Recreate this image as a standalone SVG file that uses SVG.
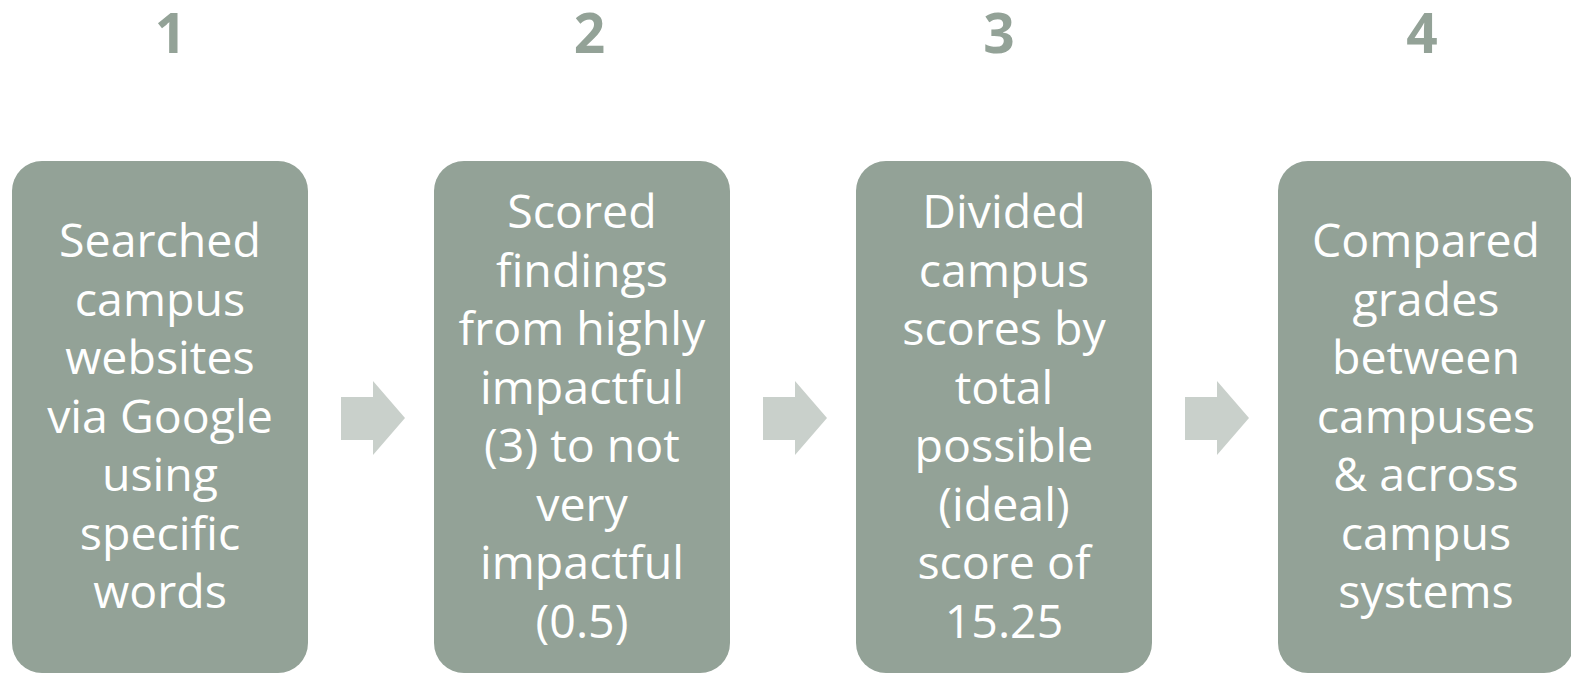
<svg xmlns="http://www.w3.org/2000/svg" width="1571" height="674" viewBox="0 0 1571 674">
<style>
.box{fill:#93A297}
.arr{fill:#C9D0CB}
.num{font-family:"Open Sans","Liberation Sans",sans-serif;font-weight:bold;font-size:55px;fill:#93A297;text-anchor:middle}
.lbl{font-family:"Open Sans","Liberation Sans",sans-serif;font-size:46.5px;fill:#FFFFFF;text-anchor:middle}
</style>
<rect width="1571" height="674" fill="#FFFFFF"/>
<g id="connectors">
<polygon class="arr" points="341,397 373,397 373,381 405,418 373,455 373,440 341,440"/>
<polygon class="arr" points="763,397 795,397 795,381 827,418 795,455 795,440 763,440"/>
<polygon class="arr" points="1185,397 1217,397 1217,381 1249,418 1217,455 1217,440 1185,440"/>
</g>
<g id="step1">
<text class="num" x="170.5" y="53">1</text>
<rect class="box" x="12" y="161" width="296" height="512" rx="30"/>
<text class="lbl" x="160" y="257">Searched</text>
<text class="lbl" x="160" y="315.5">campus</text>
<text class="lbl" x="160" y="374">websites</text>
<text class="lbl" x="160" y="432.5">via Google</text>
<text class="lbl" x="160" y="491">using</text>
<text class="lbl" x="160" y="549.5">specific</text>
<text class="lbl" x="160" y="608">words</text>
</g>
<g id="step2">
<text class="num" x="589.5" y="53">2</text>
<rect class="box" x="434" y="161" width="296" height="512" rx="30"/>
<text class="lbl" x="582" y="228">Scored</text>
<text class="lbl" x="582" y="286.5">findings</text>
<text class="lbl" x="582" y="345">from highly</text>
<text class="lbl" x="582" y="403.5">impactful</text>
<text class="lbl" x="582" y="462">(3) to not</text>
<text class="lbl" x="582" y="520.5">very</text>
<text class="lbl" x="582" y="579">impactful</text>
<text class="lbl" x="582" y="637.5">(0.5)</text>
</g>
<g id="step3">
<text class="num" x="999" y="53">3</text>
<rect class="box" x="856" y="161" width="296" height="512" rx="30"/>
<text class="lbl" x="1004" y="228">Divided</text>
<text class="lbl" x="1004" y="286.5">campus</text>
<text class="lbl" x="1004" y="345">scores by</text>
<text class="lbl" x="1004" y="403.5">total</text>
<text class="lbl" x="1004" y="462">possible</text>
<text class="lbl" x="1004" y="520.5">(ideal)</text>
<text class="lbl" x="1004" y="579">score of</text>
<text class="lbl" x="1004" y="637.5">15.25</text>
</g>
<g id="step4">
<text class="num" x="1422" y="53">4</text>
<rect class="box" x="1278" y="161" width="296" height="512" rx="30"/>
<text class="lbl" x="1426" y="257">Compared</text>
<text class="lbl" x="1426" y="315.5">grades</text>
<text class="lbl" x="1426" y="374">between</text>
<text class="lbl" x="1426" y="432.5">campuses</text>
<text class="lbl" x="1426" y="491">&amp; across</text>
<text class="lbl" x="1426" y="549.5">campus</text>
<text class="lbl" x="1426" y="608">systems</text>
</g>
</svg>
